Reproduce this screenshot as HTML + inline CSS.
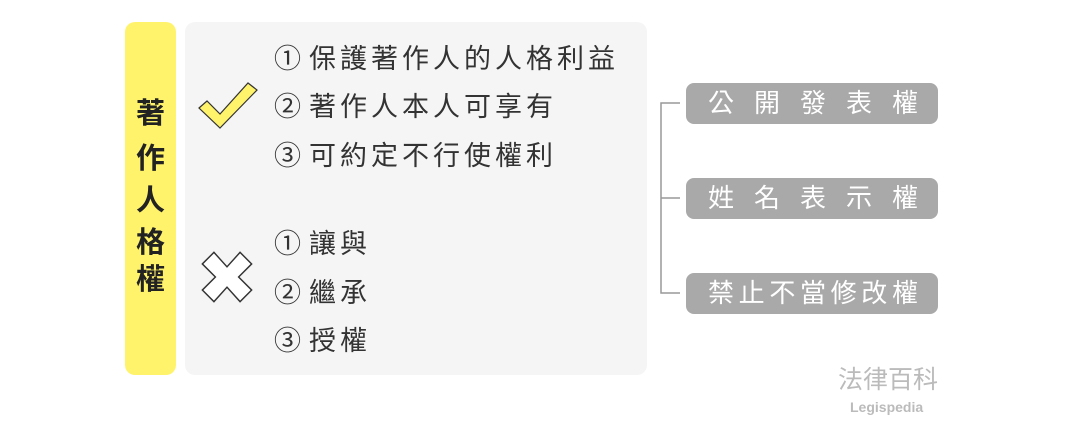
<!DOCTYPE html>
<html><head><meta charset="utf-8"><style>
body{margin:0;width:1065px;height:428px;background:#fff;position:relative;overflow:hidden;font-family:"Liberation Sans","Noto Sans CJK TC",sans-serif}
.a{position:absolute}
.bar{left:125px;top:22px;width:51px;height:353px;background:#fff36c;border-radius:10px}
.bt{left:125px;width:51px;text-align:center;font-size:29px;font-weight:bold;color:#222;line-height:1}
.panel{left:185px;top:22px;width:462px;height:353px;background:#f5f5f5;border-radius:10px}
.ln{left:274px;font-size:27px;color:#333;line-height:1;white-space:nowrap;letter-spacing:4px}
.ln span{margin-right:8px;letter-spacing:0}
.pill{left:686px;width:252px;height:41px;background:#a9a9a9;border-radius:8px;color:#fff;font-size:26px;line-height:41px;display:flex;justify-content:space-between;box-sizing:border-box;padding:0 20px 0 22px}
</style></head><body>
<div class="a bar"></div>
<div class="a bt" style="top:100px">著</div>
<div class="a bt" style="top:145px">作</div>
<div class="a bt" style="top:187px">人</div>
<div class="a bt" style="top:229px">格</div>
<div class="a bt" style="top:266px">權</div>
<div class="a panel"></div>
<svg class="a" style="left:0;top:0" width="1065" height="428">
<polygon points="199,108 207,101 220,114 248,83 257,90 220,128" fill="#fff36c" stroke="#333" stroke-width="1.2"/>
<polygon points="210,268 218,260 227,270 236,260 244,268 235,277 244,286 236,294 227,284 218,294 210,286 219,277" fill="#fff" stroke="#333" stroke-width="1" transform="translate(227,277) scale(1.45) translate(-227,-277)"/>
<path d="M680,103 H661 V293 H680 M661,198 H680" fill="none" stroke="#999" stroke-width="1.5"/>
</svg>
<div class="a ln" style="top:46px"><span>①</span>保護著作人的人格利益</div>
<div class="a ln" style="top:94px"><span>②</span>著作人本人可享有</div>
<div class="a ln" style="top:143px"><span>③</span>可約定不行使權利</div>
<div class="a ln" style="top:231px"><span>①</span>讓與</div>
<div class="a ln" style="top:280px"><span>②</span>繼承</div>
<div class="a ln" style="top:328px"><span>③</span>授權</div>
<div class="a pill" style="top:83px"><b style="font-weight:normal">公</b><b style="font-weight:normal">開</b><b style="font-weight:normal">發</b><b style="font-weight:normal">表</b><b style="font-weight:normal">權</b></div>
<div class="a pill" style="top:178px"><b style="font-weight:normal">姓</b><b style="font-weight:normal">名</b><b style="font-weight:normal">表</b><b style="font-weight:normal">示</b><b style="font-weight:normal">權</b></div>
<div class="a pill" style="top:273px"><b style="font-weight:normal">禁</b><b style="font-weight:normal">止</b><b style="font-weight:normal">不</b><b style="font-weight:normal">當</b><b style="font-weight:normal">修</b><b style="font-weight:normal">改</b><b style="font-weight:normal">權</b></div>
<div class="a" style="left:838px;top:368px;font-size:25px;color:#bbb;line-height:1">法律百科</div>
<div class="a" style="left:850px;top:400px;font-size:14px;font-weight:bold;color:#bbb;line-height:1">Legispedia</div>
</body></html>
